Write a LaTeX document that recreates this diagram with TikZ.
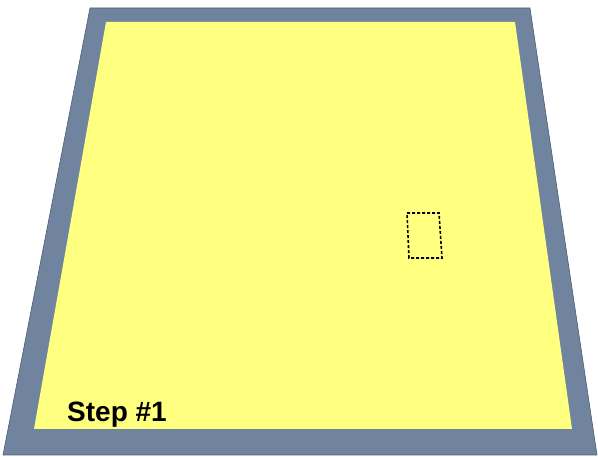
\documentclass[tikz,border=0pt]{standalone}
\usepackage{fontspec}
\setmainfont{Liberation Sans}
\definecolor{matblue}{RGB}{112,132,160}
\definecolor{padyellow}{RGB}{255,255,128}

\begin{document}
\begin{tikzpicture}[
    x=1pt, y=-1pt,
    border/.style={
        fill=matblue,
        draw=matblue!70!black,
        line width=0.6pt
    },
    pad/.style={
        fill=padyellow,
        draw=none
    },
    marker/.style={
        draw=black,
        dash pattern=on 3pt off 2pt,
        line width=1.6pt
    }
]
\useasboundingbox (0,0) rectangle (598,457);

% Frame
\draw[border] (90,8) -- (530,8) -- (597,455) -- (3,455) -- cycle;

% Yellow surface
\draw[pad] (106,22) -- (515,22) -- (572,429) -- (34,429) -- cycle;

% Small dashed mark
\draw[marker] (407,213) -- (439,213) -- (442,258) -- (409,258) -- cycle;

% Label
\node[anchor=base west, inner sep=0pt, font=\bfseries\fontsize{28}{32}\selectfont] (steplabel) at (67,422) {Step \#1};

\end{tikzpicture}
\end{document}
